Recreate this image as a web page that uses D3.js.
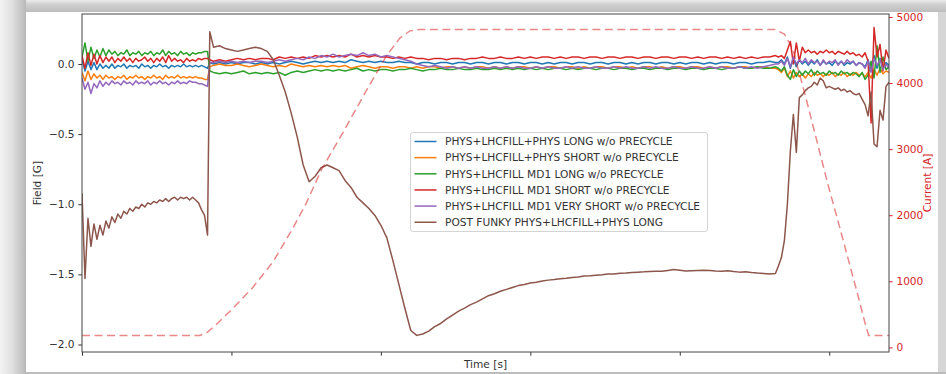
<!DOCTYPE html>
<html>
<head>
<meta charset="utf-8">
<script src="https://cdnjs.cloudflare.com/ajax/libs/d3/7.8.5/d3.min.js"></script>
<style>
  html, body { margin: 0; padding: 0; background: #f2f2f2; }
  svg { display: block; font-family: 'DejaVu Sans', sans-serif; }
</style>
</head>
<body>
<div id="vis"></div>
<script>

// sample times (one tick = 100)
const time = [
  0, 2, 4, 6, 8, 10, 12, 14, 16, 18,
  20, 22, 24, 26, 28, 30, 32, 34, 36, 38,
  40, 42, 44, 46, 48, 50, 52, 54, 56, 58,
  60, 62, 64, 66, 68, 70, 72, 74, 76, 78,
  80, 82, 84, 85.5,
  88, 92, 96, 100, 104, 108, 112, 116, 120, 124,
  128, 132, 136, 140, 144, 148, 152, 156, 160, 164,
  168, 172, 176, 180, 184, 188, 192, 196, 200, 204,
  208, 212, 216, 220, 224, 228, 232, 236, 240, 244,
  248, 252, 256, 260, 264, 268, 272, 276, 280, 284,
  288, 292, 296, 300, 304, 308, 312, 316, 320, 324,
  328, 332, 336, 340, 344, 348, 352, 356, 360, 364,
  368, 372, 376, 380, 384, 388, 392, 396, 400, 404,
  408, 412, 416, 420, 424, 428, 432, 436, 440, 444,
  448, 452, 456, 460, 464,
  466, 468, 470, 472, 474, 476, 478, 480, 482, 484,
  486, 488, 490, 492, 494, 496, 498, 500, 502, 504,
  506, 508, 510, 512, 514, 516, 518, 520, 522, 524,
  526, 528, 530, 532, 534, 536, 538, 540
];

const physLong = [
  0.03, -0.05, 0.02, -0.04, 0.01, -0.04, 0.00, -0.03, -0.01, -0.03,
  0.00, -0.03, -0.01, -0.02, 0.00, -0.03, -0.01, -0.02, -0.01, -0.03,
  0.00, -0.02, -0.01, -0.03, -0.01, -0.02, 0.00, -0.02, -0.01, -0.03,
  -0.01, -0.02, -0.01, -0.02, 0.00, -0.02, -0.01, -0.02, -0.01, -0.02,
  -0.01, -0.02, -0.03, 0.01,
  0.00, 0.01, 0.00, 0.01, 0.00, 0.01, 0.01, 0.00, 0.01, 0.00,
  0.01, 0.00, 0.01, 0.02, 0.01, 0.00, 0.01, 0.02, 0.01, 0.02,
  0.01, 0.02, 0.01, 0.03, 0.02, 0.01, 0.02, 0.01, 0.02, 0.01,
  0.01, 0.02, 0.01, 0.01, 0.00, 0.01, 0.01, 0.00, 0.01, 0.01,
  0.00, 0.01, 0.01, 0.00, 0.01, 0.01, 0.00, 0.01, 0.01, 0.00,
  0.01, 0.01, 0.00, 0.01, 0.01, 0.00, 0.01, 0.00, 0.01, 0.01,
  0.00, 0.01, 0.01, 0.00, 0.01, 0.01, 0.00, 0.01, 0.01, 0.00,
  0.01, 0.00, 0.01, 0.01, 0.00, 0.01, 0.01, 0.00, 0.01, 0.00,
  0.01, 0.01, 0.00, 0.01, 0.00, 0.01, 0.01, 0.00, 0.01, 0.01,
  0.00, 0.01, 0.01, 0.02, 0.01,
  0.01, 0.03, 0.00, 0.05, -0.03, 0.04, -0.02, 0.03, 0.00, 0.02,
  -0.01, 0.02, 0.00, 0.03, -0.01, 0.02, 0.00, 0.01, -0.01, 0.02,
  0.00, 0.02, -0.01, 0.01, 0.00, 0.02, -0.01, 0.01, 0.00, -0.02,
  0.03, -0.05, 0.06, -0.03, 0.04, -0.02, 0.01, -0.01
];

const physShort = [
  -0.06, -0.12, -0.05, -0.11, -0.07, -0.10, -0.08, -0.11, -0.08, -0.10,
  -0.09, -0.11, -0.09, -0.10, -0.08, -0.11, -0.09, -0.10, -0.08, -0.10,
  -0.09, -0.11, -0.09, -0.10, -0.08, -0.10, -0.09, -0.11, -0.08, -0.10,
  -0.09, -0.10, -0.08, -0.10, -0.09, -0.10, -0.09, -0.10, -0.09, -0.10,
  -0.10, -0.11, -0.11, -0.02,
  -0.01, 0.00, -0.01, -0.01, 0.00, -0.01, -0.02, -0.01, 0.00, -0.01,
  -0.02, -0.01, -0.02, 0.00, -0.01, -0.02, -0.01, -0.02, -0.01, -0.02,
  -0.01, -0.02, -0.01, -0.03, -0.02, -0.01, -0.02, -0.03, -0.02, -0.02,
  -0.03, -0.02, -0.02, -0.03, -0.02, -0.03, -0.02, -0.02, -0.03, -0.02,
  -0.02, -0.03, -0.02, -0.03, -0.02, -0.02, -0.03, -0.02, -0.03, -0.02,
  -0.03, -0.02, -0.02, -0.03, -0.02, -0.03, -0.02, -0.02, -0.03, -0.02,
  -0.02, -0.03, -0.02, -0.03, -0.02, -0.02, -0.03, -0.02, -0.02, -0.03,
  -0.02, -0.03, -0.02, -0.02, -0.03, -0.02, -0.03, -0.02, -0.02, -0.03,
  -0.02, -0.02, -0.03, -0.02, -0.03, -0.02, -0.02, -0.03, -0.02, -0.02,
  -0.03, -0.02, -0.02, -0.03, -0.03,
  -0.04, -0.06, -0.03, -0.09, -0.05, -0.10, -0.06, -0.09, -0.07, -0.10,
  -0.07, -0.09, -0.06, -0.08, -0.07, -0.09, -0.07, -0.08, -0.06, -0.09,
  -0.07, -0.08, -0.06, -0.09, -0.07, -0.08, -0.06, -0.08, -0.07, -0.09,
  -0.06, -0.10, -0.04, -0.08, -0.03, -0.07, -0.05, -0.06
];

const md1Long = [
  0.05, 0.15, 0.02, 0.12, 0.04, 0.10, 0.05, 0.11, 0.06, 0.10,
  0.07, 0.09, 0.06, 0.08, 0.07, 0.10, 0.06, 0.08, 0.07, 0.09,
  0.06, 0.08, 0.07, 0.09, 0.06, 0.08, 0.07, 0.10, 0.06, 0.09,
  0.07, 0.08, 0.06, 0.09, 0.07, 0.08, 0.06, 0.08, 0.07, 0.08,
  0.08, 0.09, 0.09, -0.05,
  -0.06, -0.07, -0.06, -0.07, -0.06, -0.05, -0.07, -0.06, -0.07, -0.06,
  -0.07, -0.06, -0.08, -0.06, -0.05, -0.06, -0.05, -0.04, -0.05, -0.04,
  -0.05, -0.04, -0.05, -0.04, -0.03, -0.05, -0.04, -0.05, -0.04, -0.04,
  -0.05, -0.04, -0.04, -0.03, -0.04, -0.05, -0.04, -0.04, -0.03, -0.04,
  -0.04, -0.03, -0.04, -0.04, -0.03, -0.04, -0.04, -0.03, -0.04, -0.03,
  -0.04, -0.03, -0.04, -0.03, -0.04, -0.03, -0.04, -0.03, -0.03, -0.04,
  -0.03, -0.04, -0.03, -0.03, -0.04, -0.03, -0.03, -0.04, -0.03, -0.03,
  -0.04, -0.03, -0.03, -0.04, -0.03, -0.03, -0.04, -0.03, -0.03, -0.04,
  -0.03, -0.03, -0.04, -0.03, -0.03, -0.04, -0.03, -0.03, -0.02, -0.03,
  -0.03, -0.02, -0.03, -0.03, -0.02,
  -0.03, -0.05, -0.02, -0.08, -0.11, -0.04, -0.09, -0.05, -0.08, -0.05,
  -0.07, -0.04, -0.08, -0.05, -0.07, -0.06, -0.08, -0.05, -0.07, -0.06,
  -0.08, -0.05, -0.07, -0.06, -0.08, -0.06, -0.07, -0.09, -0.06, -0.11,
  -0.08, 0.02, -0.10, 0.13, -0.06, 0.05, -0.04, -0.02
];

const md1Short = [
  0.06, -0.03, 0.08, -0.01, 0.07, 0.00, 0.06, 0.01, 0.05, 0.02,
  0.05, 0.01, 0.04, 0.02, 0.05, 0.02, 0.04, 0.01, 0.04, 0.02,
  0.03, 0.05, 0.02, 0.04, 0.01, 0.04, 0.02, 0.05, 0.01, 0.06,
  0.02, 0.04, 0.02, 0.03, 0.01, 0.04, 0.02, 0.03, 0.02, 0.04,
  0.03, 0.04, 0.04, 0.03,
  0.02, 0.03, 0.02, 0.03, 0.04, 0.03, 0.04, 0.03, 0.04, 0.04,
  0.03, 0.05, 0.04, 0.05, 0.04, 0.05, 0.04, 0.06, 0.05, 0.06,
  0.05, 0.06, 0.05, 0.07, 0.05, 0.06, 0.05, 0.06, 0.05, 0.05,
  0.04, 0.05, 0.04, 0.05, 0.04, 0.04, 0.03, 0.04, 0.04, 0.03,
  0.04, 0.04, 0.03, 0.04, 0.04, 0.05, 0.04, 0.04, 0.05, 0.04,
  0.04, 0.05, 0.04, 0.05, 0.04, 0.05, 0.05, 0.04, 0.05, 0.04,
  0.05, 0.05, 0.04, 0.05, 0.05, 0.04, 0.05, 0.05, 0.04, 0.05,
  0.05, 0.04, 0.05, 0.05, 0.04, 0.05, 0.05, 0.04, 0.05, 0.05,
  0.04, 0.05, 0.04, 0.05, 0.05, 0.04, 0.05, 0.04, 0.05, 0.04,
  0.05, 0.04, 0.05, 0.05, 0.06,
  0.05, 0.06, 0.04, 0.10, 0.16, 0.00, 0.15, 0.02, 0.12, 0.08,
  0.10, 0.08, 0.09, 0.07, 0.09, 0.08, 0.10, 0.08, 0.09, 0.07,
  0.09, 0.08, 0.07, 0.09, 0.07, 0.08, 0.06, 0.07, 0.05, 0.08,
  0.02, -0.42, 0.26, 0.05, 0.14, -0.05, 0.10, 0.04
];

const md1VeryShort = [
  -0.10, -0.18, -0.13, -0.21, -0.14, -0.17, -0.12, -0.16, -0.13, -0.15,
  -0.12, -0.14, -0.13, -0.15, -0.12, -0.14, -0.13, -0.15, -0.12, -0.14,
  -0.13, -0.14, -0.12, -0.15, -0.13, -0.14, -0.12, -0.14, -0.13, -0.15,
  -0.13, -0.14, -0.12, -0.14, -0.13, -0.14, -0.12, -0.13, -0.13, -0.14,
  -0.14, -0.15, -0.16, 0.01,
  0.01, 0.02, 0.01, 0.02, 0.01, 0.02, 0.01, 0.02, 0.02, 0.01,
  0.02, 0.03, 0.02, 0.03, 0.04, 0.03, 0.05, 0.04, 0.06, 0.05,
  0.07, 0.05, 0.06, 0.07, 0.06, 0.08, 0.06, 0.07, 0.05, 0.06,
  0.05, 0.04, 0.03, 0.02, 0.00, -0.01, -0.02, -0.01, -0.02, -0.03,
  -0.02, -0.03, -0.02, -0.03, -0.02, -0.03, -0.03, -0.02, -0.03, -0.02,
  -0.03, -0.02, -0.03, -0.03, -0.02, -0.03, -0.02, -0.03, -0.03, -0.02,
  -0.03, -0.02, -0.03, -0.03, -0.02, -0.03, -0.03, -0.02, -0.03, -0.02,
  -0.03, -0.03, -0.02, -0.03, -0.02, -0.03, -0.03, -0.02, -0.03, -0.03,
  -0.02, -0.03, -0.03, -0.02, -0.03, -0.02, -0.03, -0.03, -0.02, -0.03,
  -0.02, -0.03, -0.02, -0.01, 0.00,
  0.00, 0.02, -0.01, 0.04, -0.02, 0.05, 0.00, 0.03, 0.01, 0.04,
  0.00, 0.03, 0.01, 0.02, -0.01, 0.03, 0.00, 0.02, 0.01, 0.03,
  -0.01, 0.02, 0.00, 0.03, 0.01, 0.02, -0.01, 0.01, 0.00, -0.03,
  0.02, -0.06, 0.04, -0.01, 0.03, -0.04, 0.00, -0.03
];

const postFunky = [
  -0.92, -1.53, -1.10, -1.30, -1.14, -1.25, -1.15, -1.22, -1.12, -1.17,
  -1.09, -1.13, -1.07, -1.10, -1.05, -1.07, -1.03, -1.05, -1.02, -1.03,
  -1.00, -1.02, -0.99, -1.00, -0.98, -0.99, -0.97, -0.98, -0.96, -0.98,
  -0.96, -0.95, -0.97, -0.95, -0.96, -0.95, -0.97, -0.95, -0.97, -0.99,
  -1.04, -1.08, -1.22, 0.23,
  0.12, 0.13, 0.11, 0.10, 0.09, 0.10, 0.11, 0.12, 0.11, 0.09,
  0.03, -0.08, -0.20, -0.35, -0.52, -0.72, -0.84, -0.80, -0.74, -0.72,
  -0.74, -0.76, -0.83, -0.88, -0.95, -0.99, -1.03, -1.08, -1.15, -1.24,
  -1.40, -1.57, -1.74, -1.90, -1.935, -1.925, -1.905, -1.872, -1.850, -1.818,
  -1.790, -1.762, -1.741, -1.716, -1.698, -1.675, -1.652, -1.638, -1.620, -1.607,
  -1.594, -1.580, -1.572, -1.561, -1.556, -1.548, -1.541, -1.537, -1.532, -1.528,
  -1.522, -1.519, -1.512, -1.510, -1.506, -1.503, -1.498, -1.497, -1.492, -1.490,
  -1.486, -1.484, -1.482, -1.479, -1.477, -1.478, -1.472, -1.466, -1.470, -1.476,
  -1.474, -1.472, -1.470, -1.473, -1.476, -1.478, -1.475, -1.480, -1.484, -1.481,
  -1.486, -1.490, -1.493, -1.497, -1.494,
  -1.44, -1.38, -1.26, -1.00, -0.62, -0.36, -0.63, -0.24, -0.22, -0.19,
  -0.17, -0.16, -0.13, -0.15, -0.10, -0.12, -0.17, -0.16, -0.17, -0.18,
  -0.17, -0.19, -0.18, -0.20, -0.19, -0.21, -0.22, -0.21, -0.25, -0.29,
  -0.37, -0.20, -0.57, -0.59, -0.33, -0.40, -0.16, -0.13
];

// magnet current on the twin axis
const currentTime = [0, 79, 84, 90, 101, 114, 128, 141, 150, 160.5, 174.6, 190.6, 204, 212.7, 219.4, 226,
  464, 470, 475.6, 484.3, 499.7, 506.4, 519.7, 524.4, 526.4, 540];
const current = [180, 180, 230, 350, 590, 900, 1300, 1800, 2180, 2700, 3250, 3900, 4420, 4680, 4790, 4810,
  4810, 4740, 4520, 3784, 2416, 1869, 745, 330, 180, 180];

const seriesNames = [
  'PHYS+LHCFILL+PHYS LONG w/o PRECYCLE',
  'PHYS+LHCFILL+PHYS SHORT w/o PRECYCLE',
  'PHYS+LHCFILL MD1 LONG w/o PRECYCLE',
  'PHYS+LHCFILL MD1 SHORT w/o PRECYCLE',
  'PHYS+LHCFILL MD1 VERY SHORT w/o PRECYCLE',
  'POST FUNKY PHYS+LHCFILL+PHYS LONG'
];
const seriesColors = ['#1f77b4', '#ff7f0e', '#2ca02c', '#d62728', '#9467bd', '#8c564b'];
const seriesValues = [physLong, physShort, md1Long, md1Short, md1VeryShort, postFunky];

const timeTicks = [0, 100, 200, 300, 400, 500];
const fieldTicks = [-2.0, -1.5, -1.0, -0.5, 0.0];
const currentTicks = [0, 1000, 2000, 3000, 4000, 5000];

const width = 946;
const height = 374;
const plot = { left: 82, right: 889, top: 14, bottom: 352 };
const fontSize = 10.6;
const currentColor = '#d62728';

const svg = d3.select('#vis').append('svg')
  .attr('width', width)
  .attr('height', height);

const defs = svg.append('defs');

// grey frame round the screenshot
const leftGrad = defs.append('linearGradient').attr('id', 'leftGrad');
leftGrad.append('stop').attr('offset', '0%').attr('stop-color', '#f3f3f3');
leftGrad.append('stop').attr('offset', '45%').attr('stop-color', '#e0e0e0');
leftGrad.append('stop').attr('offset', '100%').attr('stop-color', '#b8b8b8');

const topGrad = defs.append('linearGradient').attr('id', 'topGrad')
  .attr('x1', 0).attr('y1', 0).attr('x2', 0).attr('y2', 1);
topGrad.append('stop').attr('offset', '0%').attr('stop-color', '#ececec');
topGrad.append('stop').attr('offset', '35%').attr('stop-color', '#d0d0d0');
topGrad.append('stop').attr('offset', '100%').attr('stop-color', '#bdbdbd');

svg.append('rect').attr('width', width).attr('height', height).attr('fill', '#eeeeee');
svg.append('rect').attr('x', 0).attr('y', 0).attr('width', 26).attr('height', height).attr('fill', 'url(#leftGrad)');
svg.append('rect').attr('x', 26).attr('y', 0).attr('width', width - 26).attr('height', 12).attr('fill', 'url(#topGrad)');
svg.append('rect').attr('x', 26).attr('y', 372).attr('width', width - 26).attr('height', 2).attr('fill', '#bcbcbc');
svg.append('rect').attr('x', 938).attr('y', 12).attr('width', 8).attr('height', 360).attr('fill', '#d6d6d6');
svg.append('rect').attr('x', 26).attr('y', 12).attr('width', 912).attr('height', 360).attr('fill', '#ffffff');

defs.append('clipPath').attr('id', 'plotClip')
  .append('rect')
  .attr('x', plot.left).attr('y', plot.top)
  .attr('width', plot.right - plot.left).attr('height', plot.bottom - plot.top);

const x = d3.scaleLinear().domain([0, 540]).range([plot.left, plot.right]);
const yField = d3.scaleLinear().domain([-2.0535, 0.3565]).range([plot.bottom, plot.top]);
const yCurrent = d3.scaleLinear().domain([-70, 5045]).range([plot.bottom, plot.top]);

const fieldLine = d3.line()
  .x((d) => x(d[0]))
  .y((d) => yField(d[1]));

const currentLine = d3.line()
  .x((d) => x(d[0]))
  .y((d) => yCurrent(d[1]));

const lines = svg.append('g').attr('clip-path', 'url(#plotClip)');

seriesValues.forEach((values, i) => {
  lines.append('path')
    .datum(d3.zip(time, values))
    .attr('fill', 'none')
    .attr('stroke', seriesColors[i])
    .attr('stroke-width', 1.5)
    .attr('stroke-linejoin', 'round')
    .attr('d', fieldLine);
});

lines.append('path')
  .datum(d3.zip(currentTime, current))
  .attr('fill', 'none')
  .attr('stroke', currentColor)
  .attr('stroke-opacity', 0.55)
  .attr('stroke-width', 1.5)
  .attr('stroke-dasharray', '8,4.5')
  .attr('d', currentLine);

// axes
function styleAxis(g, color) {
  g.attr('font-size', fontSize).attr('font-family', 'DejaVu Sans, sans-serif');
  g.select('.domain').remove();
  g.selectAll('.tick line').attr('stroke', color).attr('stroke-width', 1);
  g.selectAll('.tick text').attr('fill', color);
}

svg.append('g')
  .attr('transform', `translate(0,${plot.bottom})`)
  .call(d3.axisBottom(x).tickValues(timeTicks).tickFormat('').tickSizeInner(3.7).tickSizeOuter(0))
  .call((g) => styleAxis(g, '#333'));

svg.append('g')
  .attr('transform', `translate(${plot.left},0)`)
  .call(d3.axisLeft(yField).tickValues(fieldTicks).tickFormat(d3.format('.1f'))
    .tickSizeInner(3.7).tickSizeOuter(0).tickPadding(3.7))
  .call((g) => styleAxis(g, '#333'));

svg.append('g')
  .attr('transform', `translate(${plot.right},0)`)
  .call(d3.axisRight(yCurrent).tickValues(currentTicks).tickFormat(d3.format('d'))
    .tickSizeInner(3.7).tickSizeOuter(0).tickPadding(3.7))
  .call((g) => styleAxis(g, currentColor));

svg.append('rect')
  .attr('x', plot.left).attr('y', plot.top)
  .attr('width', plot.right - plot.left).attr('height', plot.bottom - plot.top)
  .attr('fill', 'none')
  .attr('stroke', '#444')
  .attr('stroke-width', 1);

svg.append('text')
  .attr('x', (plot.left + plot.right) / 2)
  .attr('y', 367.5)
  .attr('text-anchor', 'middle')
  .attr('font-size', fontSize)
  .attr('fill', '#333')
  .text('Time [s]');

svg.append('text')
  .attr('transform', `translate(41,${(plot.top + plot.bottom) / 2}) rotate(-90)`)
  .attr('text-anchor', 'middle')
  .attr('font-size', fontSize)
  .attr('fill', '#333')
  .text('Field [G]');

svg.append('text')
  .attr('transform', `translate(931,${(plot.top + plot.bottom) / 2}) rotate(-90)`)
  .attr('text-anchor', 'middle')
  .attr('font-size', fontSize)
  .attr('fill', currentColor)
  .text('Current [A]');

// legend
const legend = svg.append('g').attr('transform', 'translate(410.5,132.5)');
legend.append('rect')
  .attr('width', 297)
  .attr('height', 99)
  .attr('rx', 2.5)
  .attr('fill', '#ffffff')
  .attr('fill-opacity', 0.8)
  .attr('stroke', '#d4d4d4')
  .attr('stroke-width', 1);

const rows = legend.selectAll('.row')
  .data(seriesNames)
  .enter().append('g')
  .attr('class', 'row')
  .attr('transform', (d, i) => `translate(0,${9 + i * 16.15})`);

rows.append('line')
  .attr('x1', 4).attr('x2', 26)
  .attr('stroke', (d, i) => seriesColors[i])
  .attr('stroke-width', 1.5);

rows.append('text')
  .attr('x', 34.5)
  .attr('y', 3.8)
  .attr('font-size', fontSize)
  .attr('fill', '#333')
  .text((d) => d);

</script>
</body>
</html>
